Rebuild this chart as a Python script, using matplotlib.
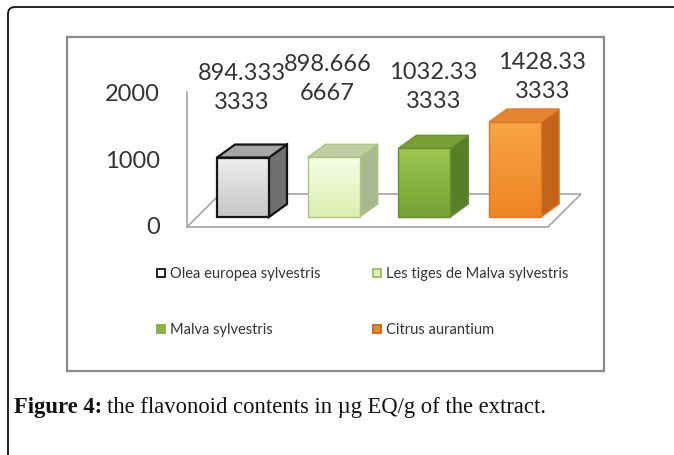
import numpy as np
import matplotlib.pyplot as plt
from matplotlib.patches import Polygon, Rectangle, FancyBboxPatch
from matplotlib.colors import LinearSegmentedColormap

# flavonoid contents (µg EQ/g of extract)
categories = ["Olea europea sylvestris", "Les tiges de Malva sylvestris",
              "Malva sylvestris", "Citrus aurantium"]
values = [894.3333333, 898.6666667, 1032.333333, 1428.333333]
yticks = [0, 1000, 2000]

# bar styling: front gradient (top, bottom), side, top, edge, edge width
front_top = ["#eeeeee", "#f6fde6", "#9cc64e", "#f9a445"]
front_bot = ["#c6c6c6", "#dcefb0", "#76a236", "#ee8424"]
side_col = ["#707070", "#a9b98f", "#587f27", "#c4641a"]
top_col = ["#a6a6a6", "#bfcfa3", "#77a134", "#e58430"]
edge_col = ["#151515", "#a9c77a", "#68902f", "#e07a22"]
edge_w = [1.6, 1.0, 1.0, 1.0]
legend_face = ["#ffffff", "#dcf2b4", "#8cb840", "#f08a30"]
legend_edge = ["#111111", "#98bd5c", "#86b03c", "#c06a20"]

# label nudges (category units, value units)
label_dx = [0.10, 0.04, 0.21, 0.41]
label_y = [2110, 2240, 2120, 2270]

W, H = 674, 456
PX_CAT = 90.7      # pixels per category step
PX_VAL = 0.0665    # pixels per value unit
X0, Y0 = 233, 228  # pixel position of category 0 / value 0 on the front plane
TXT = "#333333"


def dx(px):
    return px / PX_CAT


def dy(px):
    return px / PX_VAL


fig = plt.figure(figsize=(W / 100, H / 100), dpi=100)
fig.patch.set_facecolor("white")

# page frame with rounded corner
frame = FancyBboxPatch((0.08, -0.5), 7.5, 4.48 + 0.5, boxstyle="round,pad=0,rounding_size=0.07",
                       transform=fig.dpi_scale_trans, fill=False, ec="#111111", lw=1.3)
fig.patches.append(frame)

# chart border
fig.patches.append(Rectangle((67 / W, 1 - 372 / H), (604 - 67) / W, (372 - 38) / H,
                             transform=fig.transFigure, fill=False, ec="#8a8a8a", lw=1.6))

ax = fig.add_axes([0, 0, 1, 1])
ax.axis("off")

n = len(values)

# floor
fl, fr = -0.507, n - 0.527
fdx, fdy = dx(33), dy(33)
ax.add_patch(Polygon([(fl, 0), (fr, 0), (fr + fdx, fdy), (fl + fdx, fdy)],
                     closed=True, fc="white", ec="#a3a3a3", lw=1.2, zorder=1))
# value axis line
ax.plot([fl, fl], [0, yticks[-1] + 30], color="#a3a3a3", lw=1.2, zorder=1)

for t in yticks:
    ax.text(fl - dx(27), t, f"{t}", ha="right", va="center", fontsize=17,
            family="Lato", color=TXT)

# bars
bw = dx(52)
sx, sy = dx(10), dy(10)   # bars sit a little behind the front edge
bdx, bdy = dx(18), dy(13)  # bar depth
for i, v in enumerate(values):
    xl = i + sx - bw / 2
    xr = i + sx + bw / 2
    b = sy
    t = sy + v
    ec = edge_col[i]
    lw = edge_w[i]
    # side face
    ax.add_patch(Polygon([(xr, b), (xr + bdx, b + bdy), (xr + bdx, t + bdy), (xr, t)],
                         closed=True, fc=side_col[i], ec=ec, lw=lw, zorder=3))
    # top face
    ax.add_patch(Polygon([(xl, t), (xr, t), (xr + bdx, t + bdy), (xl + bdx, t + bdy)],
                         closed=True, fc=top_col[i], ec=ec, lw=lw, zorder=3))
    # front face with a soft vertical gradient
    cmap = LinearSegmentedColormap.from_list(f"g{i}", [front_bot[i], front_top[i]])
    grad = np.linspace(1, 0, 64).reshape(-1, 1)
    ax.imshow(grad, extent=[xl, xr, b, t], aspect="auto", cmap=cmap,
              interpolation="bilinear", zorder=3.5)
    ax.add_patch(Rectangle((xl, b), xr - xl, t - b, fill=False, ec=ec, lw=lw, zorder=4))

    txt = f"{v:.10g}"
    ax.text(i + label_dx[i], label_y[i], txt[:7] + "\n" + txt[7:], ha="center", va="center",
            fontsize=17, family="Lato", color=TXT, linespacing=1.45, zorder=5)

ax.set_xlim(-X0 / PX_CAT, (W - X0) / PX_CAT)
ax.set_ylim(-(H - Y0) / PX_VAL, Y0 / PX_VAL)

# legend, two columns
leg_x = [157, 373]
leg_y = [274, 330]
for i, name in enumerate(categories):
    px = leg_x[i % 2]
    py = leg_y[i // 2]
    fig.patches.append(Rectangle((px / W, 1 - (py + 4) / H), 8 / W, 8 / H,
                                 transform=fig.transFigure, fc=legend_face[i],
                                 ec=legend_edge[i], lw=1.3))
    fig.text((px + 13) / W, 1 - py / H, name, ha="left", va="center",
             fontsize=10.5, family="Lato", color=TXT)

# caption
cap_y = 1 - 407 / H
t1 = fig.text(14 / W, cap_y, "Figure 4:", ha="left", va="center", fontsize=16.3,
              family="Liberation Serif", weight="bold", color="#111111")
r = fig.canvas.get_renderer()
bb = t1.get_window_extent(renderer=r)
fig.text(bb.x1 / W + 5 / W, cap_y, "the flavonoid contents in µg EQ/g of the extract.",
         ha="left", va="center", fontsize=16.3, family="Liberation Serif", color="#111111")

fig.savefig("out.png", dpi=100)
